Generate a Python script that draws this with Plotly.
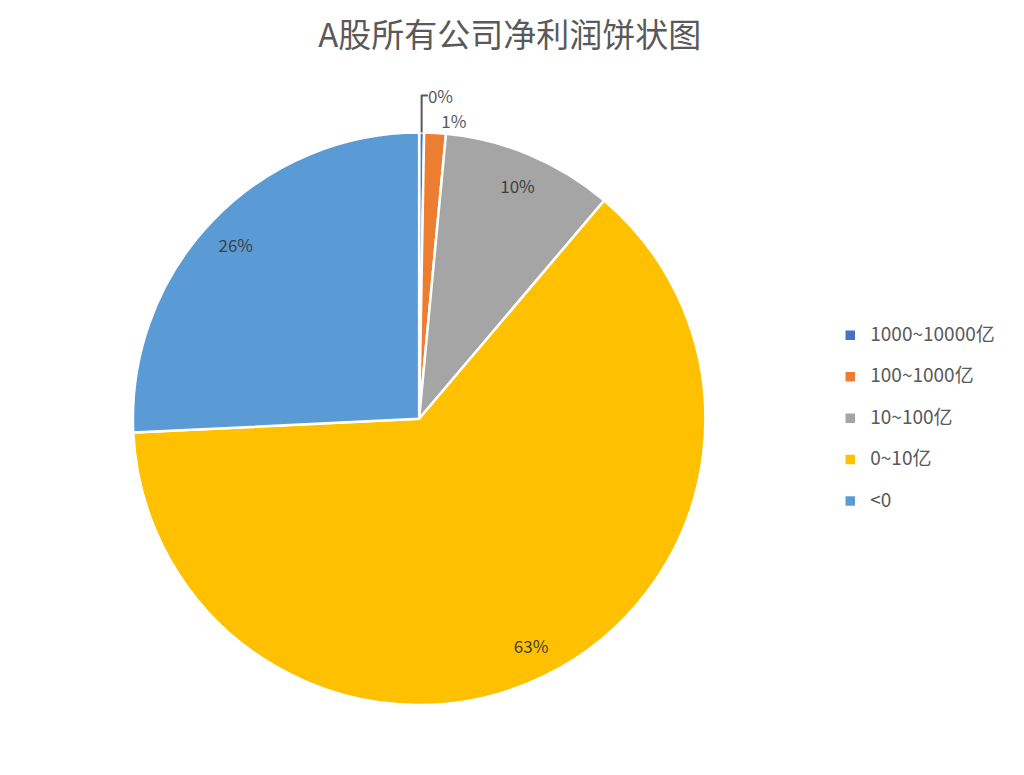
import plotly.graph_objects as go

# data: number of A-share companies by net profit range
categories = ['1000~10000亿', '100~1000亿', '10~100亿', '0~10亿', '<0']
counts = [10, 44, 350, 2275, 930]
colors = ['#4472C4', '#ED7D31', '#A5A5A5', '#FFC000', '#5B9BD5']
label_pos = ['outside', 'outside', 'inside', 'inside', 'inside']

pie_domain = dict(x=[0.122, 0.681], y=[0.100, 0.840])

fig = go.Figure()

# main pie (no text, carries the legend)
fig.add_trace(go.Pie(
    labels=['<span style="font-size:19px">' + c + '</span><br> ' for c in categories],
    values=counts,
    sort=False,
    direction='clockwise',
    rotation=0,
    marker=dict(colors=colors, line=dict(color='white', width=2.5)),
    textinfo='none',
    domain=pie_domain,
    hoverinfo='skip',
))

# transparent ring on top, only to put the percent labels near the rim
fig.add_trace(go.Pie(
    labels=categories,
    values=counts,
    sort=False,
    direction='clockwise',
    rotation=0,
    hole=0.77,
    marker=dict(colors=['rgba(0,0,0,0)'] * len(categories), line=dict(width=0)),
    texttemplate='%{percent:.0%}',
    textposition=label_pos,
    insidetextorientation='horizontal',
    textfont=dict(size=17, color='#404040'),
    outsidetextfont=dict(size=17, color='#595959'),
    domain=pie_domain,
    showlegend=False,
    hoverinfo='label+value+percent',
))

fig.update_layout(
    width=1024, height=775,
    margin=dict(l=0, r=0, t=0, b=0),
    paper_bgcolor='white',
    plot_bgcolor='white',
    font=dict(family='Noto Sans CJK SC, sans-serif', color='#595959'),
    title=dict(text='A股所有公司净利润饼状图', x=0.49, xanchor='center', y=0.965,
               yanchor='middle', font=dict(size=33, color='#595959')),
    legend=dict(x=0.803, y=0.458, xanchor='left', yanchor='middle',
                font=dict(size=14.8, color='#595959'), valign='top',
                traceorder='normal'),
)

fig.write_html('out.html')
